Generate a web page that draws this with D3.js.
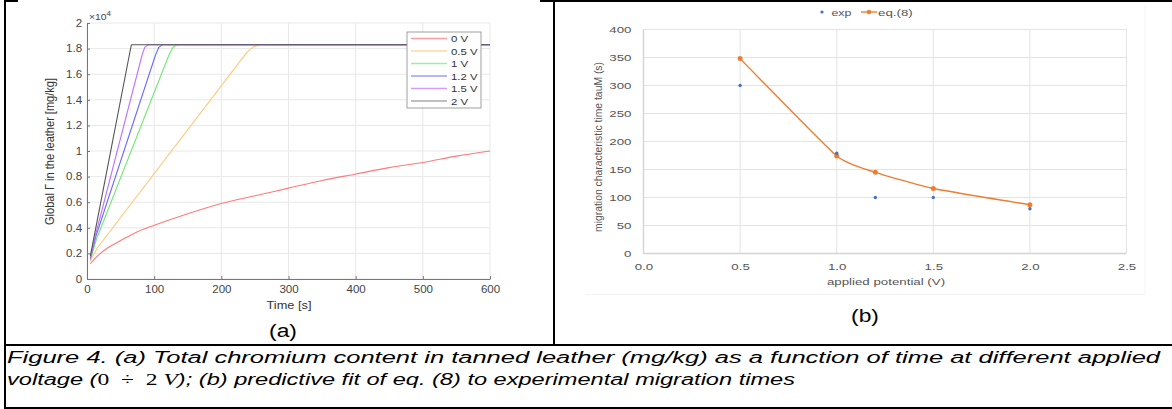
<!DOCTYPE html>
<html>
<head>
<meta charset="utf-8">
<script src="https://cdn.jsdelivr.net/npm/d3@7"></script>
<style>
  body { margin: 0; background: #fff; }
  svg { display: block; font-family: "Liberation Sans", Arial, sans-serif; }
</style>
</head>
<body>
<svg id="fig" width="1172" height="409"></svg>
<script>
// ---- panel (a) data: Global Gamma (x10^4 mg/kg) vs time [s]
var voltLabels = ['0 V', '0.5 V', '1 V', '1.2 V', '1.5 V', '2 V'];
var voltColors = ['#ff7a7a', '#ffc878', '#72e872', '#6b6bff', '#c072ff', '#555555'];
var legendColors = ['#ff9e9e', '#ffd9a0', '#9cf09c', '#9c9cff', '#d59cff', '#aaaaaa'];

var t0V   = [5, 10, 20, 30, 50, 75, 100, 150, 200, 250, 300, 350, 400, 450, 500, 550, 600];
var g0V   = [0.12, 0.15, 0.2, 0.24, 0.3, 0.37, 0.42, 0.51, 0.59, 0.65, 0.71, 0.77, 0.82, 0.87, 0.91, 0.96, 1.0];
var t05V  = [5, 15, 238, 248, 258, 600];
var g05V  = [0.14, 0.24, 1.77, 1.815, 1.83, 1.83];
var t1V   = [5, 14, 122, 128, 134, 600];
var g1V   = [0.15, 0.31, 1.75, 1.81, 1.83, 1.83];
var t12V  = [5, 13, 102, 107, 112, 600];
var g12V  = [0.16, 0.33, 1.75, 1.81, 1.83, 1.83];
var t15V  = [5, 12, 82, 86, 91, 600];
var g15V  = [0.17, 0.33, 1.75, 1.81, 1.83, 1.83];
var t2V   = [5, 66, 600];
var g2V   = [0.18, 1.83, 1.83];

var seriesT = [t0V, t05V, t1V, t12V, t15V, t2V];
var seriesG = [g0V, g05V, g1V, g12V, g15V, g2V];

var aXTicks = [0, 100, 200, 300, 400, 500, 600];
var aYTicks = [0, 0.2, 0.4, 0.6, 0.8, 1, 1.2, 1.4, 1.6, 1.8, 2];

// ---- panel (b) data: migration time vs applied potential
var potExp = [0.5, 1.0, 1.2, 1.5, 2.0];
var tauExp = [300, 179, 100, 100, 80];
var potFit = [0.5, 1.0, 1.2, 1.5, 2.0];
var tauFit = [348, 174, 145, 116, 87];
var bXTicks = [0, 0.5, 1.0, 1.5, 2.0, 2.5];
var bYTicks = [0, 50, 100, 150, 200, 250, 300, 350, 400];

var svg = d3.select('#fig');

// text placed at (x,y) and stretched sideways by k
function wideText(g, x, y, k, str) {
  return g.append('text').attr('transform', 'translate(' + x + ',' + y + ') scale(' + k + ',1)').text(str);
}

// ---- table frame
var frame = svg.append('g').attr('stroke', '#000').attr('stroke-width', 2);
frame.append('line').attr('x1', 5).attr('y1', 0).attr('x2', 5).attr('y2', 409);
frame.append('line').attr('x1', 4).attr('y1', 1).attr('x2', 18).attr('y2', 1);
frame.append('line').attr('x1', 540).attr('y1', 1).attr('x2', 1172).attr('y2', 1);
frame.append('line').attr('x1', 554).attr('y1', 0).attr('x2', 554).attr('y2', 345);
frame.append('line').attr('x1', 4).attr('y1', 345).attr('x2', 1172).attr('y2', 345);
frame.append('line').attr('x1', 4).attr('y1', 408).attr('x2', 1172).attr('y2', 408);

// ================= panel (a) =================
var ax = d3.scaleLinear().domain([0, 600]).range([87, 490]);
var ay = d3.scaleLinear().domain([0, 2]).range([279, 23]);
var ga = svg.append('g');

// grid
ga.selectAll('.vg').data(aXTicks).enter().append('line')
  .attr('x1', d => ax(d)).attr('x2', d => ax(d))
  .attr('y1', ay(0)).attr('y2', ay(2))
  .attr('stroke', '#e8e8e8').attr('stroke-width', 1);
ga.selectAll('.hg').data(aYTicks).enter().append('line')
  .attr('x1', ax(0)).attr('x2', ax(600))
  .attr('y1', d => ay(d)).attr('y2', d => ay(d))
  .attr('stroke', '#e8e8e8').attr('stroke-width', 1);

// axes
var aXAxis = d3.axisBottom(ax).tickValues(aXTicks).tickSize(-3).tickSizeOuter(0).tickPadding(7);
var aYAxis = d3.axisLeft(ay).tickValues(aYTicks).tickSize(-3).tickSizeOuter(0).tickPadding(4.5)
  .tickFormat(d3.format('~g'));
var gax = ga.append('g').attr('transform', 'translate(0,' + ay(0) + ')').call(aXAxis);
var gay = ga.append('g').attr('transform', 'translate(' + ax(0) + ',0)').call(aYAxis);
[gax, gay].forEach(function (g) {
  g.select('.domain').attr('stroke', '#777');
  g.selectAll('.tick line').attr('stroke', '#777');
  g.selectAll('.tick text').attr('fill', '#444').style('font-size', '10.5px')
    .attr('transform', 'scale(1.1,1)')
    .style('font-family', '"Liberation Sans", Arial, sans-serif');
});

var xp = wideText(ga, 89, 20, 1.15, '\u00d710').attr('fill', '#444').style('font-size', '9px');
xp.append('tspan').attr('dy', -4).style('font-size', '7px').text('4');

wideText(ga, 289, 309, 1.22, 'Time [s]').attr('text-anchor', 'middle')
  .attr('fill', '#333').style('font-size', '10.5px');
ga.append('text').attr('transform', 'translate(54,151.5) rotate(-90) scale(1,1.2)').attr('text-anchor', 'middle')
  .attr('fill', '#333').style('font-size', '11px')
  .attr('textLength', 147).attr('lengthAdjust', 'spacingAndGlyphs')
  .text('Global \u0393 in the leather [mg/kg]');

// curves
seriesT.forEach(function (ts, i) {
  var pts = ts.map((t, j) => [t, seriesG[i][j]]);
  var curve = i === 0 ? d3.curveCatmullRom : d3.curveLinear;
  ga.append('path').datum(pts)
    .attr('d', d3.line().x(d => ax(d[0])).y(d => ay(d[1])).curve(curve))
    .attr('fill', 'none').attr('stroke', voltColors[i]).attr('stroke-width', 1.1)
    .attr('stroke-linejoin', 'round');
});

// legend
var leg = ga.append('g');
leg.append('rect').attr('x', 407).attr('y', 32).attr('width', 74).attr('height', 76)
  .attr('fill', '#fff').attr('stroke', '#888').attr('stroke-width', 0.8);
voltLabels.forEach(function (lab, i) {
  var y = 38.5 + i * 12.5;
  leg.append('line').attr('x1', 411).attr('x2', 447).attr('y1', y).attr('y2', y)
    .attr('stroke', legendColors[i]).attr('stroke-width', 1.3);
  wideText(leg, 451, y + 3.5, 1.2, lab).attr('fill', '#333').style('font-size', '9.5px');
});

wideText(svg, 283, 337, 1.2, '(a)').attr('text-anchor', 'middle')
  .style('font-size', '19px').attr('fill', '#000');

// ================= panel (b) =================
var bx = d3.scaleLinear().domain([0, 2.5]).range([643.5, 1126.5]);
var by = d3.scaleLinear().domain([0, 400]).range([253.5, 29.5]);
var gb = svg.append('g');
var kb = 1.4;

// faint chart container
gb.append('line').attr('x1', 585).attr('x2', 1145).attr('y1', 294.5).attr('y2', 294.5)
  .attr('stroke', '#f2f2f2');
gb.append('line').attr('x1', 1145).attr('x2', 1145).attr('y1', 5).attr('y2', 294.5)
  .attr('stroke', '#f4f4f4');

gb.selectAll('.vg').data(bXTicks).enter().append('line')
  .attr('x1', d => bx(d)).attr('x2', d => bx(d))
  .attr('y1', by(0)).attr('y2', by(400))
  .attr('stroke', '#e3e3e3').attr('stroke-width', 1);
gb.selectAll('.hg').data(bYTicks).enter().append('line')
  .attr('x1', bx(0)).attr('x2', bx(2.5))
  .attr('y1', d => by(d)).attr('y2', d => by(d))
  .attr('stroke', '#e3e3e3').attr('stroke-width', 1);
gb.append('line').attr('x1', bx(0)).attr('x2', bx(2.5)).attr('y1', by(0)).attr('y2', by(0))
  .attr('stroke', '#d4d4d4').attr('stroke-width', 1.6);
gb.append('line').attr('x1', bx(0)).attr('x2', bx(0)).attr('y1', by(0)).attr('y2', by(400))
  .attr('stroke', '#d4d4d4').attr('stroke-width', 1.4);

var bXAxis = d3.axisBottom(bx).tickValues(bXTicks).tickSize(0).tickPadding(10).tickFormat(d3.format('.1f'));
var bYAxis = d3.axisLeft(by).tickValues(bYTicks).tickSize(0).tickPadding(12 / kb);
var gbx = gb.append('g').attr('transform', 'translate(0,' + by(0) + ')').call(bXAxis);
var gby = gb.append('g').attr('transform', 'translate(' + bx(0) + ',0)').call(bYAxis);
[gbx, gby].forEach(function (g) {
  g.select('.domain').remove();
  g.selectAll('.tick text').attr('fill', '#555').style('font-size', '9.5px')
    .attr('transform', 'scale(' + kb + ',1)')
    .style('font-family', '"Liberation Sans", Arial, sans-serif');
});

wideText(gb, 886, 285, kb, 'applied potential (V)').attr('text-anchor', 'middle')
  .attr('fill', '#555').style('font-size', '9.5px');
gb.append('text').attr('transform', 'translate(602,147) rotate(-90) scale(1,1.3)').attr('text-anchor', 'middle')
  .attr('fill', '#555').style('font-size', '9px')
  .attr('textLength', 170).attr('lengthAdjust', 'spacingAndGlyphs')
  .text('migration characteristic time tauM (s)');

// fit curve
var fitPts = potFit.map((p, i) => [p, tauFit[i]]);
gb.append('path').datum(fitPts)
  .attr('d', d3.line().x(d => bx(d[0])).y(d => by(d[1])).curve(d3.curveCardinal.tension(0.55)))
  .attr('fill', 'none').attr('stroke', '#ed7d31').attr('stroke-width', 1.4);
gb.selectAll('.fit').data(fitPts).enter().append('circle')
  .attr('cx', d => bx(d[0])).attr('cy', d => by(d[1])).attr('r', 2.5).attr('fill', '#ed7d31');
gb.selectAll('.exp').data(potExp).enter().append('circle')
  .attr('cx', d => bx(d)).attr('cy', (d, i) => by(tauExp[i])).attr('r', 1.7).attr('fill', '#4472c4');

// legend
gb.append('circle').attr('cx', 822).attr('cy', 12).attr('r', 1.6).attr('fill', '#4472c4');
wideText(gb, 831.5, 15.5, 1.3, 'exp').attr('fill', '#555').style('font-size', '9.5px');
gb.append('line').attr('x1', 861).attr('x2', 877).attr('y1', 12).attr('y2', 12)
  .attr('stroke', '#ed7d31').attr('stroke-width', 1.4);
gb.append('circle').attr('cx', 869).attr('cy', 12).attr('r', 2.2).attr('fill', '#ed7d31');
wideText(gb, 878, 15.5, kb, 'eq.(8)').attr('fill', '#555').style('font-size', '9.5px');

wideText(svg, 865, 322, 1.2, '(b)').attr('text-anchor', 'middle')
  .style('font-size', '19px').attr('fill', '#000');

// ================= caption =================
var cap = svg.append('g').style('font-style', 'italic').style('font-size', '16px').attr('fill', '#000');
cap.append('text').attr('x', 7).attr('y', 363)
  .attr('textLength', 1153).attr('lengthAdjust', 'spacingAndGlyphs')
  .text('Figure 4. (a) Total chromium content in tanned leather (mg/kg) as a function of time at different applied');
var l2 = cap.append('text').attr('x', 7).attr('y', 385)
  .attr('textLength', 788).attr('lengthAdjust', 'spacingAndGlyphs');
l2.append('tspan').text('voltage (');
l2.append('tspan').style('font-style', 'normal').style('font-family', '"Liberation Serif", "DejaVu Serif", serif')
  .text('0 \u00a0\u00f7\u00a0 2 ');
l2.append('tspan').style('font-family', '"Liberation Serif", "DejaVu Serif", serif').text('V');
l2.append('tspan').text('); (b) predictive fit of eq. (8) to experimental migration times');
</script>
</body>
</html>
